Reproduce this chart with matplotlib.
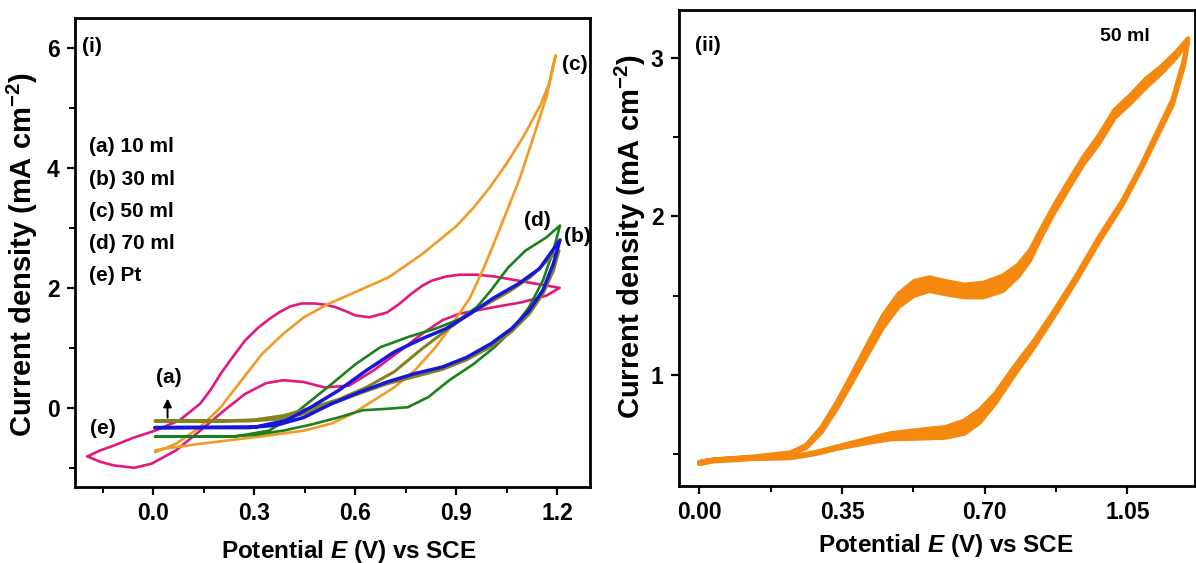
import numpy as np
import matplotlib

matplotlib.use("agg")
import matplotlib.pyplot as plt
from matplotlib.ticker import MultipleLocator, FormatStrFormatter

plt.rcParams["font.family"] = ["Liberation Sans", "DejaVu Sans"]
plt.rcParams["font.weight"] = "bold"
plt.rcParams["axes.labelweight"] = "bold"
plt.rcParams["mathtext.fontset"] = "custom"
plt.rcParams["mathtext.rm"] = "Liberation Sans:bold"
plt.rcParams["mathtext.it"] = "Liberation Sans:italic:bold"
plt.rcParams["mathtext.bf"] = "Liberation Sans:bold"

# ---- panel (i): CVs, each as forward + reverse sweep (E in V, j in mA cm-2) ----
# (e) Pt
pt_fwd_x = [-0.196, -0.158, -0.118, -0.06, 0.005, 0.077, 0.139, 0.17, 0.2, 0.236, 0.272, 0.31, 0.344, 0.376, 0.406, 0.44, 0.478, 0.51, 0.54, 0.572, 0.601, 0.642, 0.694, 0.73, 0.766, 0.8, 0.827, 0.87, 0.91, 0.96, 1.013, 1.095, 1.167, 1.207]
pt_fwd_y = [-0.81, -0.71, -0.63, -0.50, -0.38, -0.21, 0.07, 0.30, 0.57, 0.85, 1.12, 1.33, 1.48, 1.60, 1.69, 1.74, 1.74, 1.72, 1.68, 1.61, 1.54, 1.51, 1.59, 1.73, 1.90, 2.04, 2.12, 2.19, 2.22, 2.22, 2.19, 2.11, 2.04, 2.00]
pt_rev_x = [1.207, 1.167, 1.095, 1.013, 0.91, 0.858, 0.797, 0.735, 0.653, 0.581, 0.509, 0.447, 0.386, 0.334, 0.272, 0.211, 0.139, 0.067, -0.005, -0.057, -0.118, -0.158, -0.196]
pt_rev_y = [2.00, 1.87, 1.76, 1.68, 1.57, 1.46, 1.23, 0.96, 0.62, 0.37, 0.34, 0.43, 0.46, 0.41, 0.23, -0.04, -0.38, -0.71, -0.93, -1.00, -0.96, -0.90, -0.81]

# (c) 50 ml
c_fwd_x = [0.005, 0.067, 0.139, 0.2, 0.262, 0.323, 0.385, 0.447, 0.519, 0.6, 0.7, 0.8, 0.9, 0.95, 1.0, 1.05, 1.1, 1.15, 1.175, 1.195]
c_fwd_y = [-0.74, -0.60, -0.32, 0.01, 0.46, 0.90, 1.23, 1.51, 1.73, 1.93, 2.18, 2.57, 3.03, 3.33, 3.68, 4.08, 4.53, 5.05, 5.40, 5.88]
c_rev_x = [1.195, 1.168, 1.128, 1.09, 1.055, 1.023, 0.982, 0.941, 0.889, 0.838, 0.776, 0.715, 0.653, 0.591, 0.53, 0.447, 0.344, 0.241, 0.139, 0.034, 0.005]
c_rev_y = [5.88, 5.19, 4.50, 3.85, 3.35, 2.90, 2.34, 1.84, 1.40, 1.01, 0.62, 0.34, 0.12, -0.10, -0.26, -0.38, -0.46, -0.53, -0.60, -0.68, -0.71]

# (b) 30 ml
b_fwd_x = [0.005, 0.303, 0.395, 0.468, 0.55, 0.632, 0.715, 0.797, 0.869, 0.941, 1.013, 1.085, 1.147, 1.208]
b_fwd_y = [-0.33, -0.32, -0.21, 0.01, 0.29, 0.62, 0.93, 1.15, 1.32, 1.57, 1.84, 2.07, 2.32, 2.80]
b_rev_x = [1.208, 1.188, 1.157, 1.116, 1.064, 1.003, 0.93, 0.858, 0.776, 0.694, 0.612, 0.53, 0.447, 0.365, 0.282, 0.005]
b_rev_y = [2.80, 2.40, 1.96, 1.62, 1.32, 1.07, 0.84, 0.68, 0.57, 0.43, 0.26, 0.07, -0.16, -0.29, -0.33, -0.33]

# (a) 10 ml
a_fwd_x = [0.005, 0.2, 0.3, 0.386, 0.468, 0.55, 0.632, 0.715, 0.797, 0.86, 0.934, 1.0, 1.06, 1.12, 1.178, 1.205]
a_fwd_y = [-0.22, -0.22, -0.20, -0.13, 0.0, 0.14, 0.34, 0.60, 0.98, 1.25, 1.55, 1.76, 1.95, 2.18, 2.50, 2.62]
a_rev_x = [1.205, 1.188, 1.157, 1.116, 1.064, 1.003, 0.93, 0.858, 0.776, 0.694, 0.612, 0.53, 0.447, 0.365, 0.282, 0.005]
a_rev_y = [2.62, 2.28, 1.90, 1.56, 1.27, 1.02, 0.80, 0.64, 0.52, 0.40, 0.24, 0.07, -0.10, -0.19, -0.22, -0.22]

# (d) 70 ml
d_fwd_x = [0.005, 0.241, 0.344, 0.406, 0.468, 0.53, 0.601, 0.674, 0.756, 0.838, 0.91, 0.961, 1.003, 1.054, 1.105, 1.167, 1.208]
d_fwd_y = [-0.48, -0.48, -0.38, -0.16, 0.12, 0.40, 0.73, 1.01, 1.18, 1.32, 1.48, 1.68, 1.96, 2.34, 2.62, 2.84, 3.04]
d_rev_x = [1.208, 1.188, 1.157, 1.116, 1.064, 1.013, 0.951, 0.879, 0.817, 0.756, 0.684, 0.622, 0.55, 0.468, 0.386, 0.303, 0.221, 0.005]
d_rev_y = [3.04, 2.62, 2.12, 1.68, 1.29, 1.01, 0.73, 0.46, 0.18, 0.01, -0.02, -0.04, -0.16, -0.28, -0.38, -0.45, -0.48, -0.48]

legend_lines = ["(a) 10 ml", "(b) 30 ml", "(c) 50 ml", "(d) 70 ml", "(e) Pt"]

# ---- panel (ii): repeated cycles of the 50 ml sample (outer / inner cycle) ----
cyc_fwd_x = [0.0, 0.035, 0.13, 0.224, 0.281, 0.338, 0.413, 0.47, 0.546, 0.603, 0.65, 0.688, 0.726, 0.773, 0.82, 0.868, 0.924, 0.981, 1.038, 1.085, 1.123, 1.161, 1.189, 1.199]
cyc1_fwd_y = [0.45, 0.466, 0.48, 0.484, 0.511, 0.548, 0.598, 0.632, 0.655, 0.67, 0.711, 0.78, 0.882, 1.052, 1.211, 1.393, 1.62, 1.87, 2.098, 2.325, 2.53, 2.734, 2.984, 3.12]
cyc2_fwd_y = [0.44, 0.456, 0.47, 0.476, 0.50, 0.535, 0.572, 0.595, 0.60, 0.605, 0.63, 0.70, 0.82, 1.00, 1.17, 1.36, 1.59, 1.84, 2.07, 2.30, 2.50, 2.70, 2.95, 3.10]
cyc_rev_x = [1.199, 1.17, 1.133, 1.095, 1.057, 1.019, 0.981, 0.943, 0.905, 0.868, 0.839, 0.811, 0.782, 0.745, 0.697, 0.65, 0.603, 0.565, 0.527, 0.489, 0.451, 0.413, 0.376, 0.338, 0.3, 0.262, 0.224, 0.13, 0.035, 0.0]
cyc1_rev_y = [3.12, 3.034, 2.943, 2.864, 2.761, 2.67, 2.511, 2.375, 2.216, 2.057, 1.92, 1.784, 1.693, 1.625, 1.58, 1.568, 1.591, 1.614, 1.591, 1.511, 1.375, 1.193, 1.011, 0.83, 0.67, 0.557, 0.511, 0.484, 0.466, 0.45]
cyc2_rev_y = [3.10, 3.0, 2.9, 2.81, 2.71, 2.62, 2.46, 2.33, 2.17, 2.01, 1.87, 1.72, 1.62, 1.53, 1.49, 1.49, 1.51, 1.53, 1.50, 1.43, 1.30, 1.13, 0.96, 0.79, 0.64, 0.54, 0.50, 0.476, 0.46, 0.44]

magenta = "#e2187f"
orange = "#f39a26"
blue = "#1616dc"
green = "#1b821b"
olive = "#83831f"
orange2 = "#f5880f"

fig = plt.figure(figsize=(11.96, 5.63), dpi=100)
ax1 = fig.add_axes([0.0627, 0.135, 0.4306, 0.833])
ax2 = fig.add_axes([0.5677, 0.1368, 0.4314, 0.8455])

kw = dict(solid_joinstyle="round", solid_capstyle="round")
ax1.plot(pt_fwd_x + pt_rev_x, pt_fwd_y + pt_rev_y, color=magenta, lw=1.9, **kw)
ax1.plot(c_fwd_x + c_rev_x, c_fwd_y + c_rev_y, color=orange, lw=1.9, **kw)
ax1.plot(d_fwd_x + d_rev_x, d_fwd_y + d_rev_y, color=green, lw=1.9, **kw)
ax1.plot(a_fwd_x + a_rev_x, a_fwd_y + a_rev_y, color=olive, lw=2.2, **kw)
ax1.plot(b_fwd_x + b_rev_x, b_fwd_y + b_rev_y, color=blue, lw=2.5, **kw)

ax1.set_xlim(-0.233, 1.297)
ax1.set_ylim(-1.32, 6.5)
ax1.xaxis.set_major_locator(MultipleLocator(0.3))
ax1.xaxis.set_minor_locator(MultipleLocator(0.15))
ax1.xaxis.set_major_formatter(FormatStrFormatter("%.1f"))
ax1.yaxis.set_major_locator(MultipleLocator(2))
ax1.yaxis.set_minor_locator(MultipleLocator(1))

ax1.text(-0.212, 6.03, "(i)", fontsize=15, va="center")
for i, s in enumerate(legend_lines):
    ax1.text(-0.19, 4.35 - i * 0.535, s, fontsize=15, va="center")
ax1.text(1.215, 5.72, "(c)", fontsize=15, va="center")
ax1.text(1.1, 3.12, "(d)", fontsize=15, va="center")
ax1.text(1.22, 2.85, "(b)", fontsize=15, va="center")
ax1.text(-0.188, -0.34, "(e)", fontsize=15, va="center")
ax1.text(0.045, 0.5, "(a)", fontsize=15, va="center", ha="center")
ax1.annotate("", xy=(0.042, 0.2), xytext=(0.042, -0.21),
             arrowprops=dict(arrowstyle="-|>", color="k", lw=1.4, mutation_scale=12))

ax1.set_xlabel(r"Potential $E$ (V) vs SCE", fontsize=17.5)
ax1.set_ylabel(r"Current density (mA cm$^{-2}$)", fontsize=21)
ax1.xaxis.set_label_coords(0.532, -0.108)
ax1.yaxis.set_label_coords(-0.068, 0.495)

# panel (ii): band between the outer and inner cycle, then the cycles themselves
ax2.fill(cyc_fwd_x + cyc_fwd_x[::-1], cyc1_fwd_y + cyc2_fwd_y[::-1], color=orange2, lw=0)
ax2.fill(cyc_rev_x + cyc_rev_x[::-1], cyc1_rev_y + cyc2_rev_y[::-1], color=orange2, lw=0)
ax2.plot(cyc_fwd_x + cyc_rev_x, cyc1_fwd_y + cyc1_rev_y, color=orange2, lw=3.2, **kw)
ax2.plot(cyc_fwd_x + cyc_rev_x, cyc2_fwd_y + cyc2_rev_y, color=orange2, lw=3.2, **kw)
ax2.set_xlim(-0.05, 1.216)
ax2.set_ylim(0.30, 3.30)
ax2.xaxis.set_major_locator(MultipleLocator(0.35))
ax2.xaxis.set_minor_locator(MultipleLocator(0.175))
ax2.xaxis.set_major_formatter(FormatStrFormatter("%.2f"))
ax2.yaxis.set_major_locator(MultipleLocator(1))
ax2.yaxis.set_minor_locator(MultipleLocator(0.5))
ax2.text(-0.01, 3.075, "(ii)", fontsize=15, va="center")
ax2.text(0.983, 3.13, "50 ml", fontsize=14, va="center")
ax2.set_xlabel(r"Potential $E$ (V) vs SCE", fontsize=17.5)
ax2.set_ylabel(r"Current density (mA cm$^{-2}$)", fontsize=21)
ax2.xaxis.set_label_coords(0.517, -0.097)
ax2.yaxis.set_label_coords(-0.06, 0.523)

for ax in (ax1, ax2):
    for sp in ax.spines.values():
        sp.set_linewidth(2.0)
    ax.tick_params(which="major", direction="out", length=6, width=1.6, labelsize=16.5, pad=5)
    ax.tick_params(which="minor", direction="out", length=4, width=1.4)
    ax.tick_params(top=False, right=False, which="both")

fig.savefig("out.png", dpi=100)
